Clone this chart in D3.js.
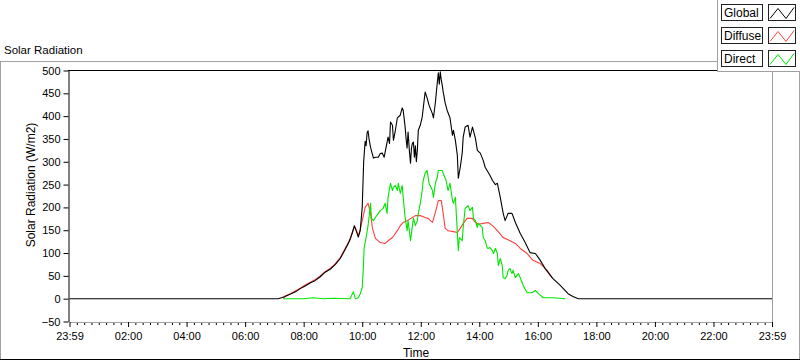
<!DOCTYPE html>
<html>
<head>
<meta charset="utf-8">
<script src="https://cdn.jsdelivr.net/npm/d3@7"></script>
<style>
  html, body { margin: 0; padding: 0; background: #fff; }
  svg { display: block; font-family: "Liberation Sans", Arial, sans-serif; }
</style>
</head>
<body>
<svg id="chart" width="800" height="361"></svg>
<script>
// ---- Data (minutes of day, W/m2) ----
const seriesNames = ["Global", "Diffuse", "Direct"];
const seriesColors = ["#000000", "#ff4040", "#00e600"];

const globalTimes = [0, 428, 442, 453, 463, 473, 483, 494, 504, 514, 524, 535, 545, 555, 565, 572, 576, 580, 584, 588, 592, 596, 600, 603, 606, 608, 610, 612, 614, 617, 623, 627, 633, 637, 641, 645, 649, 653, 656, 658, 662, 664, 668, 672, 678, 682, 684, 688, 690, 692, 694, 697, 699, 701, 703, 705, 707, 709, 711, 713, 715, 719, 723, 729, 733, 737, 744, 746, 750, 752, 756, 758, 760, 762, 764, 766, 770, 774, 780, 785, 787, 791, 795, 797, 801, 805, 807, 811, 817, 821, 826, 832, 836, 842, 848, 852, 856, 862, 867, 873, 877, 883, 889, 893, 899, 907, 914, 924, 934, 944, 955, 965, 975, 991, 1006, 1022, 1032, 1043, 1440];
const globalValues = [0, 0, 5, 10, 15, 22, 28, 35, 40, 48, 58, 65, 75, 88, 108, 122, 132, 145, 160, 148, 135, 150, 200, 300, 345, 335, 363, 368, 350, 332, 308, 310, 310, 318, 319, 310, 332, 354, 340, 387, 380, 347, 369, 396, 402, 418, 413, 376, 350, 330, 365, 320, 297, 330, 341, 343, 310, 335, 300, 325, 369, 380, 398, 453, 440, 424, 405, 396, 430, 453, 495, 470, 497, 480, 468, 453, 429, 413, 396, 358, 369, 347, 314, 264, 288, 319, 354, 376, 380, 354, 376, 352, 325, 319, 303, 288, 281, 270, 259, 250, 253, 222, 187, 171, 187, 187, 167, 143, 123, 101, 99, 84, 66, 44, 29, 11, 5, 0, 0];

const diffuseTimes = [438, 442, 453, 463, 473, 483, 494, 504, 514, 524, 535, 545, 555, 565, 572, 576, 580, 584, 588, 592, 596, 600, 606, 612, 617, 621, 627, 637, 647, 653, 662, 672, 678, 684, 692, 703, 709, 719, 729, 735, 744, 750, 756, 762, 766, 770, 776, 787, 795, 801, 807, 815, 826, 832, 838, 848, 858, 867, 877, 889, 903, 914, 924, 938, 950, 965, 979, 989];
const diffuseValues = [0, 6, 11, 17, 23, 30, 36, 42, 50, 59, 67, 77, 90, 110, 124, 134, 147, 158, 150, 137, 152, 171, 200, 209, 187, 154, 132, 123, 121, 127, 134, 149, 160, 167, 171, 178, 182, 182, 178, 176, 167, 189, 215, 215, 187, 154, 149, 147, 145, 154, 165, 176, 176, 167, 163, 165, 167, 160, 149, 134, 127, 121, 110, 99, 84, 77, 62, 46];

const directTimes = [438, 480, 500, 520, 540, 575, 582, 586, 592, 596, 600, 602, 604, 608, 612, 614, 617, 619, 623, 627, 633, 637, 643, 647, 651, 653, 658, 662, 664, 668, 672, 674, 678, 682, 684, 688, 692, 694, 699, 703, 705, 709, 713, 715, 719, 723, 725, 729, 733, 737, 744, 746, 750, 754, 756, 764, 766, 772, 776, 780, 785, 787, 791, 795, 797, 799, 805, 807, 811, 817, 821, 826, 828, 832, 836, 838, 846, 848, 852, 856, 858, 862, 867, 869, 873, 877, 879, 883, 887, 889, 893, 897, 899, 903, 907, 909, 914, 920, 924, 930, 938, 948, 955, 961, 971, 991, 1016];
const directValues = [0, 0, 2, 0, 1, 0, 15, 0, 2, 11, 24, 62, 112, 134, 160, 178, 209, 176, 171, 178, 187, 193, 198, 209, 187, 222, 253, 237, 244, 248, 237, 253, 231, 248, 222, 178, 149, 171, 127, 160, 176, 160, 171, 187, 209, 237, 259, 275, 281, 253, 237, 222, 253, 266, 281, 281, 275, 259, 237, 253, 215, 209, 222, 145, 105, 134, 127, 156, 198, 204, 193, 200, 176, 171, 156, 165, 156, 134, 127, 112, 110, 112, 105, 99, 110, 99, 73, 88, 73, 46, 44, 51, 62, 66, 55, 62, 46, 55, 46, 29, 13, 13, 18, 11, 2, 2, 0];

const xTickMinutes = [0, 120, 240, 360, 480, 600, 720, 840, 960, 1080, 1200, 1320, 1440];
const xTickLabels = ["23:59", "02:00", "04:00", "06:00", "08:00", "10:00", "12:00", "14:00", "16:00", "18:00", "20:00", "22:00", "23:59"];
const yTicks = [-50, 0, 50, 100, 150, 200, 250, 300, 350, 400, 450, 500];

// ---- Drawing ----
const svg = d3.select("#chart");
const W = 800, H = 361;
const plot = { left: 69.5, right: 772, top: 70.5, bottom: 321.5 };

svg.append("rect").attr("width", W).attr("height", H).attr("fill", "#fff");

const x = d3.scaleLinear().domain([0, 1440]).range([plot.left, plot.right]);
const y = d3.scaleLinear().domain([-50, 500]).range([plot.bottom, plot.top]);

// outer frame
const frame = svg.append("g");
frame.append("line").attr("x1", 0).attr("x2", 717).attr("y1", 61.5).attr("y2", 61.5).attr("stroke", "#a0a0a0");
frame.append("line").attr("x1", 0.5).attr("x2", 0.5).attr("y1", 61).attr("y2", 360).attr("stroke", "#a0a0a0");
frame.append("line").attr("x1", 799.5).attr("x2", 799.5).attr("y1", 0).attr("y2", 360).attr("stroke", "#a0a0a0");
frame.append("line").attr("x1", 0).attr("x2", 800).attr("y1", 359.5).attr("y2", 359.5).attr("stroke", "#000");

// title
svg.append("text").attr("x", 4).attr("y", 54).attr("font-size", 11.5).attr("fill", "#000").text("Solar Radiation");

// plot border
svg.append("line").attr("x1", 68).attr("x2", plot.right + 0.5).attr("y1", 70.5).attr("y2", 70.5).attr("stroke", "#000");
svg.append("line").attr("x1", 772.5).attr("x2", 772.5).attr("y1", 70).attr("y2", 322).attr("stroke", "#a0a0a0");

// x axis (minor then major)
const xMinor = d3.range(0, 1441, 15).filter(m => m % 120 !== 0);
svg.append("g").attr("transform", "translate(0,322)")
  .call(d3.axisBottom(x).tickValues(xMinor).tickSize(3).tickSizeOuter(0).tickFormat(""))
  .call(g => g.select(".domain").remove())
  .call(g => g.selectAll("line").attr("stroke", "#000"));
const xAxis = svg.append("g").attr("transform", "translate(0,322)")
  .call(d3.axisBottom(x).tickValues(xTickMinutes).tickSize(5).tickSizeOuter(0).tickPadding(5)
    .tickFormat((d, i) => xTickLabels[i]));
xAxis.select(".domain").attr("stroke", "#a0a0a0");
xAxis.selectAll("text").attr("font-size", 11).attr("fill", "#000").attr("font-family", "Liberation Sans, Arial, sans-serif");
xAxis.selectAll("line").attr("stroke", "#000");

// y axis
const yAxis = svg.append("g").attr("transform", "translate(68.5,0)")
  .call(d3.axisLeft(y).tickValues(yTicks).tickSize(5).tickSizeOuter(0).tickPadding(3));
yAxis.select(".domain").attr("stroke", "#000");
yAxis.selectAll("text").attr("font-size", 11).attr("fill", "#000").attr("font-family", "Liberation Sans, Arial, sans-serif");
yAxis.selectAll("line").attr("stroke", "#000");

// axis titles
svg.append("text").attr("transform", "translate(35,185) rotate(-90)").attr("text-anchor", "middle")
  .attr("font-size", 12).attr("fill", "#000").text("Solar Radiation (W/m2)");
svg.append("text").attr("x", 416).attr("y", 357).attr("text-anchor", "middle")
  .attr("font-size", 12).attr("fill", "#000").text("Time");

// series (drawing order: Diffuse, Global, Direct)
const series = [
  { times: globalTimes, values: globalValues, color: seriesColors[0] },
  { times: diffuseTimes, values: diffuseValues, color: seriesColors[1] },
  { times: directTimes, values: directValues, color: seriesColors[2] }
];
const drawOrder = [1, 0, 2];
const line = d3.line().x(d => x(d[0])).y(d => y(d[1]));
const plotG = svg.append("g");
drawOrder.forEach(i => {
  const s = series[i];
  const pts = s.times.map((t, j) => [t, s.values[j]]);
  plotG.append("path").datum(pts).attr("d", line)
    .attr("fill", "none").attr("stroke", s.color).attr("stroke-width", 1.1)
    .attr("stroke-linejoin", "round");
});

// legend
const leg = svg.append("g");
leg.append("rect").attr("x", 717.5).attr("y", -1).attr("width", 90).attr("height", 72.5)
  .attr("fill", "#fff").attr("stroke", "#a0a0a0");
const legTop = [4.5, 27.5, 50.5];
seriesNames.forEach((name, i) => {
  const ty = legTop[i];
  leg.append("rect").attr("x", 721.5).attr("y", ty).attr("width", 41).attr("height", 16)
    .attr("fill", "#fff").attr("stroke", "#222");
  leg.append("text").attr("x", 724).attr("y", ty + 12.5).attr("font-size", 12).attr("fill", "#000").text(name);
  leg.append("rect").attr("x", 768.5).attr("y", ty).attr("width", 27).attr("height", 16)
    .attr("fill", "#fff").attr("stroke", "#222");
  const zz = [[770, ty + 14], [778, ty + 4], [786, ty + 14], [794, ty + 3]];
  leg.append("path").attr("d", d3.line()(zz)).attr("fill", "none")
    .attr("stroke", seriesColors[i]).attr("stroke-width", 1);
});
</script>
</body>
</html>
